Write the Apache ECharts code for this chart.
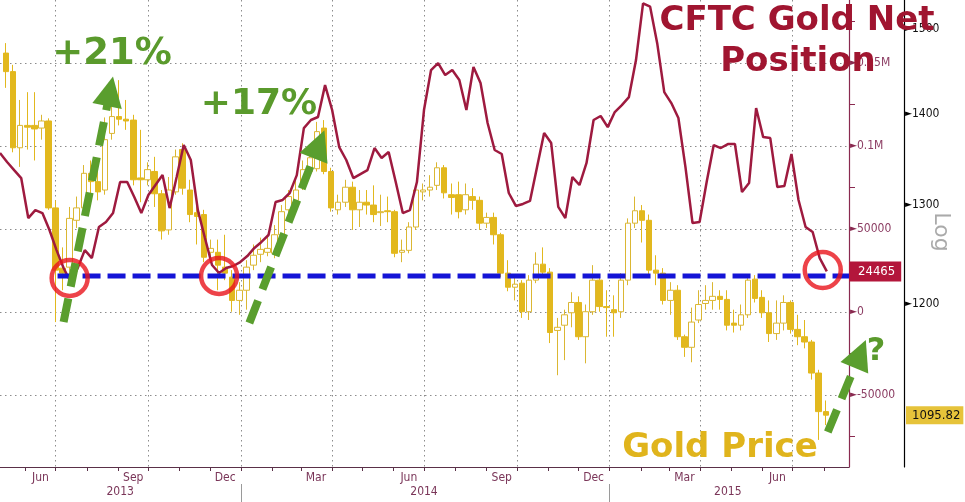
<!DOCTYPE html>
<html>
<head>
<meta charset="utf-8">
<script src="https://cdn.jsdelivr.net/npm/echarts@6/dist/echarts.min.js"></script>
<style>
html, body { margin: 0; padding: 0; background: #fff; }
#main { width: 965px; height: 502px; }
</style>
</head>
<body>
<div id="main"></div>
<script>
// CFTC gold net position, weekly (Tuesdays from 2013-05-07)
const cftcValues = [
  95800, 90400, 85500, 80700, 56600, 61400, 59600, 49400, 37300, 26500,
  18100, 26500, 37300, 32500, 51200, 54200, 59600, 78300, 78300, 69300,
  59600, 70500, 76500, 82500, 62600, 81300, 100600, 91600, 61400, 44600,
  28300, 23500, 26500, 27700, 30100, 33700, 38600, 42200, 46400, 66300,
  67500, 71700, 82500, 110800, 115700, 117500, 136700, 121700, 99400, 91600,
  80700, 83100, 85500, 98800, 92800, 96400, 78300, 59600, 61400, 78300,
  121700, 145800, 150000, 142800, 145800, 139800, 121700, 147600, 138000, 113900,
  97600, 95200, 71700, 63900, 65100, 66900, 87300, 107800, 101800, 63300,
  56600, 81300, 76500, 89800, 115700, 118100, 111400, 120500, 124700, 129500,
  151800, 186000, 184000, 162000, 132500, 125900, 116900, 87300, 53600, 54200,
  78300, 100600, 98800, 101200, 101200, 72300, 77700, 122900, 105400, 104800,
  75300, 75900, 95200, 67500, 51200, 48200, 32500, 24465
];

// gold weekly candles (weeks from 2013-05-13)
const goldOpen = [
  1471, 1449, 1362, 1387, 1387, 1384, 1392, 1297, 1235, 1236,
  1284, 1297, 1334, 1325, 1316, 1378, 1397, 1394, 1393, 1329,
  1327, 1336, 1312, 1274, 1314, 1360, 1316, 1292, 1290, 1251,
  1251, 1236, 1226, 1203, 1213, 1238, 1249, 1251, 1250, 1269,
  1295, 1305, 1320, 1336, 1339, 1384, 1336, 1295, 1303, 1319,
  1295, 1303, 1300, 1292, 1294, 1293, 1251, 1253, 1277, 1314,
  1316, 1321, 1340, 1311, 1311, 1295, 1309, 1305, 1281, 1287,
  1269, 1230, 1216, 1220, 1192, 1223, 1239, 1231, 1174, 1179,
  1191, 1201, 1168, 1192, 1223, 1197, 1194, 1192, 1223, 1281,
  1294, 1284, 1233, 1230, 1203, 1213, 1168, 1158, 1184, 1200,
  1203, 1207, 1204, 1181, 1179, 1189, 1224, 1206, 1191, 1171,
  1181, 1201, 1175, 1168, 1163, 1134, 1099
];
const goldClose = [
  1449, 1362, 1387, 1385, 1383, 1392, 1297, 1233, 1230, 1286,
  1297, 1334, 1325, 1314, 1371, 1397, 1394, 1392, 1327, 1327,
  1338, 1312, 1273, 1316, 1352, 1318, 1290, 1288, 1246, 1255,
  1238, 1230, 1203, 1213, 1236, 1248, 1254, 1255, 1269, 1293,
  1309, 1316, 1338, 1351, 1380, 1336, 1297, 1303, 1319, 1295,
  1303, 1300, 1290, 1293, 1293, 1250, 1253, 1277, 1316, 1316,
  1319, 1340, 1313, 1308, 1293, 1311, 1305, 1281, 1287, 1269,
  1230, 1216, 1219, 1192, 1223, 1239, 1231, 1172, 1177, 1189,
  1201, 1168, 1192, 1223, 1197, 1196, 1191, 1223, 1281, 1294,
  1284, 1233, 1230, 1203, 1213, 1168, 1158, 1182, 1199, 1203,
  1207, 1204, 1179, 1179, 1189, 1223, 1205, 1191, 1171, 1181,
  1201, 1175, 1168, 1163, 1134, 1099, 1095.82
];
const goldLow = [
  1430, 1357, 1341, 1360, 1348, 1371, 1295, 1182, 1213, 1228,
  1276, 1293, 1311, 1305, 1311, 1371, 1387, 1382, 1321, 1303,
  1321, 1298, 1264, 1269, 1311, 1311, 1282, 1259, 1241, 1240,
  1213, 1223, 1192, 1189, 1194, 1233, 1241, 1247, 1245, 1264,
  1290, 1300, 1316, 1330, 1336, 1333, 1293, 1290, 1298, 1274,
  1277, 1290, 1282, 1278, 1282, 1246, 1241, 1250, 1274, 1305,
  1309, 1316, 1307, 1290, 1286, 1290, 1295, 1274, 1276, 1259,
  1226, 1212, 1203, 1186, 1184, 1220, 1227, 1162, 1132, 1146,
  1177, 1165, 1143, 1189, 1192, 1168, 1168, 1186, 1218, 1276,
  1261, 1228, 1218, 1199, 1189, 1165, 1149, 1144, 1181, 1194,
  1194, 1194, 1174, 1172, 1174, 1186, 1201, 1186, 1163, 1165,
  1174, 1171, 1160, 1157, 1128, 1074, 1087
];
const goldHigh = [
  1483, 1457, 1416, 1425, 1425, 1399, 1395, 1305, 1256, 1298,
  1309, 1343, 1348, 1343, 1396, 1422, 1439, 1416, 1399, 1382,
  1346, 1352, 1316, 1330, 1360, 1367, 1327, 1305, 1295, 1264,
  1264, 1269, 1233, 1221, 1243, 1259, 1266, 1269, 1279, 1300,
  1316, 1327, 1348, 1360, 1391, 1393, 1340, 1311, 1327, 1325,
  1316, 1316, 1321, 1311, 1309, 1295, 1264, 1282, 1319, 1323,
  1332, 1346, 1343, 1323, 1325, 1323, 1318, 1309, 1292, 1292,
  1271, 1243, 1228, 1223, 1228, 1251, 1256, 1235, 1186, 1194,
  1211, 1207, 1199, 1238, 1227, 1213, 1208, 1230, 1286, 1309,
  1300, 1290, 1248, 1235, 1221, 1218, 1170, 1196, 1213, 1218,
  1221, 1213, 1213, 1194, 1199, 1228, 1228, 1213, 1203, 1203,
  1208, 1203, 1189, 1184, 1165, 1137, 1109
];

// axis ticks and labels
const cftcTicks = [-50000, 0, 50000, 100000, 150000];
const cftcMinorTicks = [-75000, -25000, 25000, 75000, 125000, 175000];
const goldTicks = [1200, 1300, 1400, 1500];
const monthLabelDates = ['2013-06-16', '2013-09-16', '2013-12-16', '2014-03-16', '2014-06-16',
  '2014-09-16', '2014-12-16', '2015-03-16', '2015-06-16'];
const quarterDates = ['2013-07-01', '2013-10-01', '2014-01-01', '2014-04-01', '2014-07-01',
  '2014-10-01', '2015-01-01', '2015-04-01', '2015-07-01'];
const yearLabelDates = ['2013-09-03', '2014-07-01', '2015-04-28'];
const yearBreaks = ['2014-01-01', '2015-01-01'];

// annotations drawn on the chart
const levelLine = 21700;
const levelFrom = '2013-07-03';
const circleDates = ['2013-07-15', '2013-12-10', '2015-07-31'];
const circleValues = [20500, 21700, 25300];
const arrowFrom = [['2013-07-09', -6000], ['2014-01-09', -6600], ['2015-08-05', -72300]];
const arrowTo = [['2013-08-24', 133000], ['2014-03-19', 101100], ['2015-09-06', -25200]];

const t = s => { const p = s.split('-').map(Number); return new Date(p[0], p[1] - 1, p[2]).getTime(); };
const xMin = t('2013-05-07'), xMax = t('2015-08-26');
const cftcMin = -93400, cftcMax = 188000;
const goldMin = 1050.6, goldMax = 1535.9;
const months = ['Jan','Feb','Mar','Apr','May','Jun','Jul','Aug','Sep','Oct','Nov','Dec'];
const axisFont = "'DejaVu Sans Condensed', 'Liberation Sans', sans-serif";
const bigFont = "'DejaVu Sans', Verdana, sans-serif";

const cftcDates = cftcValues.map((_, i) => new Date(2013, 4, 7 + 7 * i).getTime());
const goldDates = goldOpen.map((_, i) => new Date(2013, 4, 13 + 7 * i).getTime());
const monthStarts = [];
for (let m = 5; m <= 31; m++) monthStarts.push(new Date(2013, m, 1).getTime());

const lastCftc = cftcValues[cftcValues.length - 1];
const lastGold = goldClose[goldClose.length - 1];

let myChart = echarts.init(document.getElementById('main'));
const option = {
  animation: false,
  backgroundColor: '#fff',
  grid: { left: 0, right: 116, top: 0, bottom: 35, outerBoundsMode: 'none' },
  xAxis: [
    {
      // dates as timestamps on a value scale
      type: 'value', position: 'bottom', min: xMin, max: xMax,
      axisLine: { onZero: false, lineStyle: { color: '#5a3048', width: 1 } },
      axisTick: { show: true, length: 4, customValues: monthStarts, lineStyle: { color: '#5a3048' } },
      axisLabel: {
        customValues: monthLabelDates.map(t),
        formatter: v => months[new Date(v).getMonth()],
        color: '#7a3558', fontSize: 12, margin: 5, fontFamily: axisFont
      },
      splitLine: { show: false }
    },
    {
      type: 'value', position: 'bottom', min: xMin, max: xMax,
      axisLine: { show: false, onZero: false },
      axisTick: { show: false, customValues: quarterDates.map(t) },
      axisLabel: { show: false },
      splitLine: { show: true, lineStyle: { color: '#8c8c8c', type: [1.5, 3.5], width: 1 } }
    },
    {
      type: 'value', position: 'bottom', min: xMin, max: xMax, offset: 17,
      axisLine: { show: false, onZero: false },
      axisTick: { show: true, length: 18, customValues: yearBreaks.map(t), lineStyle: { color: '#9a9a9a' } },
      axisLabel: {
        customValues: yearLabelDates.map(t),
        formatter: v => String(new Date(v).getFullYear()),
        color: '#7a3558', fontSize: 12, margin: 2, fontFamily: axisFont
      },
      splitLine: { show: false }
    }
  ],
  yAxis: [
    {
      type: 'value', position: 'right', min: cftcMin, max: cftcMax,
      axisLine: { show: true, onZero: false, lineStyle: { color: '#8a2a50', width: 1.2 } },
      axisTick: { show: false, customValues: cftcTicks },
      axisLabel: {
        customValues: cftcTicks,
        formatter: v => '{t|►}' + (Math.abs(v) >= 100000 ? (v / 1e6) + 'M' : String(v)),
        color: '#8c3d63', fontSize: 12, margin: 1, fontFamily: axisFont,
        rich: { t: { fontSize: 9, color: '#8a2a50', fontFamily: bigFont } }
      },
      splitLine: { show: true, lineStyle: { color: '#8c8c8c', type: [1.5, 3.5], width: 1 } }
    },
    {
      type: 'value', position: 'right', offset: 55, min: Math.log(goldMin), max: Math.log(goldMax),
      axisLine: { show: true, onZero: false, lineStyle: { color: '#000', width: 1.2 } },
      axisTick: { show: false },
      axisLabel: {
        customValues: goldTicks.map(Math.log),
        formatter: v => '{t|►}' + Math.round(Math.exp(v)),
        color: '#111', fontSize: 12, margin: 1, fontFamily: axisFont,
        rich: { t: { fontSize: 9, color: '#000', fontFamily: bigFont } }
      },
      splitLine: { show: false }
    },
    {
      type: 'value', position: 'right', min: cftcMin, max: cftcMax,
      axisLine: { show: false, onZero: false },
      axisTick: { show: true, length: 6, customValues: cftcMinorTicks, lineStyle: { color: '#8a2a50' } },
      axisLabel: { show: false },
      splitLine: { show: false }
    },
    {
      type: 'value', position: 'right', min: cftcMin, max: cftcMax,
      axisLine: { show: false, onZero: false },
      axisTick: { show: false },
      axisLabel: {
        customValues: [lastCftc], formatter: v => String(Math.round(v)),
        color: '#fff', backgroundColor: '#b3163b', padding: [4, 6, 3, 9],
        fontSize: 13, margin: 0, fontFamily: axisFont
      },
      splitLine: { show: false }
    },
    {
      type: 'value', position: 'right', offset: 55, min: Math.log(goldMin), max: Math.log(goldMax),
      axisLine: { show: false, onZero: false },
      axisTick: { show: false },
      axisLabel: {
        customValues: [Math.log(lastGold)], formatter: v => Math.exp(v).toFixed(2),
        color: '#111', backgroundColor: '#e6c33a', padding: [3, 3, 2, 6],
        fontSize: 13, margin: 2, fontFamily: axisFont
      },
      splitLine: { show: false }
    }
  ],
  series: [
    {
      name: 'Gold', type: 'candlestick', xAxisIndex: 0, yAxisIndex: 1, barWidth: 6, z: 2,
      data: goldDates.map((d, i) => [d, Math.log(goldOpen[i]), Math.log(goldClose[i]), Math.log(goldLow[i]), Math.log(goldHigh[i])]),
      itemStyle: { color: '#ffffff', color0: '#e2b81e', borderColor: '#dbb733', borderColor0: '#e2b81e', borderWidth: 1 }
    },
    {
      name: 'CFTC', type: 'line', xAxisIndex: 0, yAxisIndex: 0, z: 3,
      data: cftcDates.map((d, i) => [d, cftcValues[i]]),
      symbol: 'none', lineStyle: { color: '#9e1a3f', width: 2.5 }
    },
    {
      name: 'level', type: 'line', xAxisIndex: 0, yAxisIndex: 0, z: 4,
      data: [[t(levelFrom), levelLine], [xMax, levelLine]],
      symbol: 'none', lineStyle: { color: '#1414d6', width: 5, type: [18, 7] }
    },
    {
      name: 'circles', type: 'scatter', xAxisIndex: 0, yAxisIndex: 0, z: 5,
      data: circleDates.map((d, i) => [t(d), circleValues[i]]),
      symbol: 'circle', symbolSize: 36,
      itemStyle: { color: 'rgba(0,0,0,0)', borderColor: '#e8141c', borderWidth: 4.5 }
    },
    {
      name: 'arrows', type: 'lines', coordinateSystem: 'cartesian2d', xAxisIndex: 0, yAxisIndex: 0, z: 6,
      clip: false,
      data: arrowFrom.map((f, i) => ({ coords: [[t(f[0]), f[1]], [t(arrowTo[i][0]), arrowTo[i][1]]] })),
      symbol: ['none', 'triangle'], symbolSize: 30,
      lineStyle: { color: '#5a9e2e', width: 8, type: [24, 12], opacity: 1, curveness: 0 },
      itemStyle: { color: '#5a9e2e' }
    }
  ],
  graphic: [
    { type: 'text', x: 112, y: 54, z: 100, style: { text: '+21%', fill: '#5a9a2c', fontSize: 37, fontWeight: 'bold', fontFamily: bigFont, align: 'center', verticalAlign: 'middle' } },
    { type: 'text', x: 259, y: 105, z: 100, style: { text: '+17%', fill: '#5a9a2c', fontSize: 36, fontWeight: 'bold', fontFamily: bigFont, align: 'center', verticalAlign: 'middle' } },
    { type: 'text', x: 797, y: 21, z: 100, style: { text: 'CFTC Gold Net', fill: '#a01530', fontSize: 34, fontWeight: 'bold', fontFamily: bigFont, align: 'center', verticalAlign: 'middle' } },
    { type: 'text', x: 798, y: 62, z: 100, style: { text: 'Position', fill: '#a01530', fontSize: 34, fontWeight: 'bold', fontFamily: bigFont, align: 'center', verticalAlign: 'middle' } },
    { type: 'text', x: 720, y: 448, z: 100, style: { text: 'Gold Price', fill: '#e0b41c', fontSize: 34, fontWeight: 'bold', fontFamily: bigFont, align: 'center', verticalAlign: 'middle' } },
    { type: 'text', x: 876, y: 352, z: 100, style: { text: '?', fill: '#5a9a2c', fontSize: 32, fontWeight: 'bold', fontFamily: bigFont, align: 'center', verticalAlign: 'middle' } },
    { type: 'text', x: 941, y: 232, z: 100, rotation: -Math.PI / 2, style: { text: 'Log', fill: '#aaaaaa', fontSize: 22, fontFamily: bigFont, align: 'center', verticalAlign: 'middle' } }
  ]
};

myChart.setOption(option);
window.addEventListener('resize', function () {
  myChart.resize();
});
</script>
</body>
</html>
